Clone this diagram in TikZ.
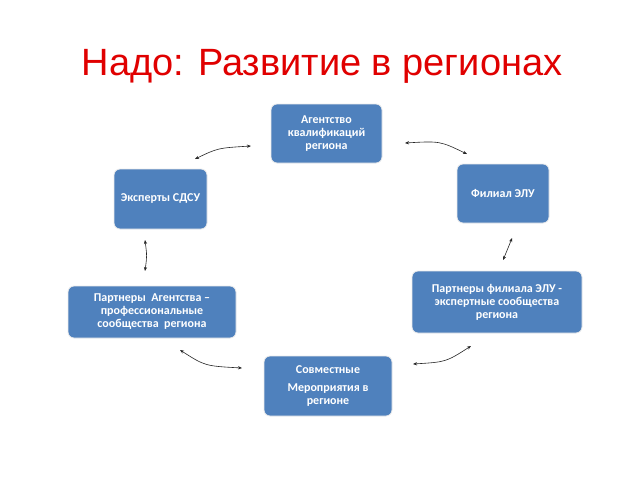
\documentclass[tikz,border=0pt]{standalone}
\usepackage{fontspec}
\setmainfont{Carlito}
\newfontfamily\titlefont{Liberation Sans}
\usetikzlibrary{arrows.meta}
\definecolor{boxblue}{HTML}{4F81BD}
\definecolor{titlered}{HTML}{E00000}
\tikzset{
  blockbox/.style={draw=white!85!gray, line width=0.8pt, fill=boxblue, rounded corners=6pt,
    text=white, align=center, font=\bfseries\fontsize{12}{13}\selectfont, inner sep=2pt},
  link/.style={line width=0.6pt, draw=black!85, {Stealth[length=4pt,width=3.2pt]}-{Stealth[length=4pt,width=3.2pt]}}
}
\begin{document}
\begin{tikzpicture}[x=1pt,y=-1pt]
\useasboundingbox (0,0) rectangle (640,480);
\fill[white] (0,0) rectangle (640,480);
\node[anchor=base, text=titlered, font=\titlefont\fontsize{38}{40}\selectfont] (title) at (322,75) {Надо: Развитие в регионах};

\node[blockbox, minimum width=111pt, minimum height=59pt] (ag) at (326.5,133.5) {Агентство\\квалификаций\\региона};
\node[blockbox, minimum width=93pt, minimum height=60pt] (ex) at (160.5,199) {Эксперты СДСУ};
\node[blockbox, minimum width=92pt, minimum height=59pt] (fi) at (503,193.5) {Филиал ЭЛУ};
\node[blockbox, minimum width=168pt, minimum height=52pt] (pa) at (152,312) {Партнеры\ \ Агентства –\\профессиональные\\сообщества\ \ региона};
\node[blockbox, minimum width=170pt, minimum height=62pt] (pf) at (497,302) {Партнеры филиала ЭЛУ -\\экспертные сообщества\\региона};
\node[blockbox, minimum width=128pt, minimum height=60pt] (sv) at (328,386) {Совместные\\[5pt]Мероприятия в\\регионе};

\coordinate (a1s) at (195,159); \coordinate (a1e) at (251,146);
\coordinate (a2s) at (405,143); \coordinate (a2e) at (467,154);
\coordinate (a3s) at (512,238); \coordinate (a3e) at (503,260);
\coordinate (a4s) at (413,364); \coordinate (a4e) at (471,346);
\coordinate (a5s) at (180,350); \coordinate (a5e) at (242,368);
\coordinate (a6s) at (145,240); \coordinate (a6e) at (145,271);

\draw[link] (a1s) .. controls (218,148) .. (a1e);
\draw[link] (a2s) .. controls (440,141) .. (a2e);
\draw[link] (a3s) .. controls (508,249) .. (a3e);
\draw[link] (a4s) .. controls (446,362) .. (a4e);
\draw[link] (a5s) .. controls (205,366) .. (a5e);
\draw[link] (a6s) .. controls (147,256) .. (a6e);
\end{tikzpicture}
\end{document}
